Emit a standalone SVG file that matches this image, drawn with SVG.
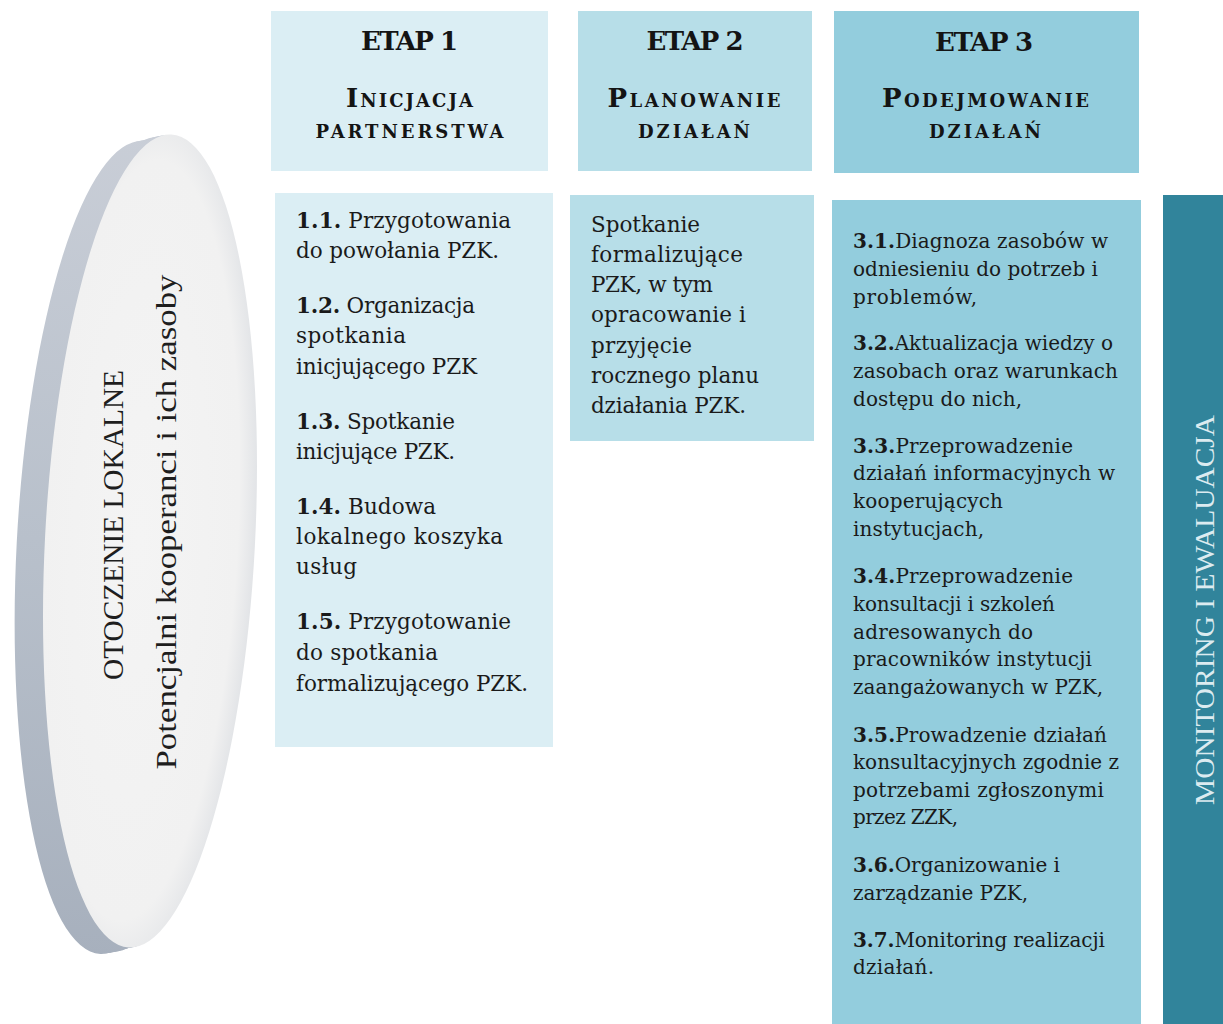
<svg xmlns="http://www.w3.org/2000/svg" width="1223" height="1024" viewBox="0 0 1223 1024">
<defs>
<style>
.hdr{font-family:"DejaVu Serif","Liberation Serif",serif;font-weight:bold;font-size:26px;fill:#141414;text-anchor:middle}
.sc{font-variant:small-caps}
.t1{font-family:"DejaVu Serif","Liberation Serif",serif;font-size:21.5px;fill:#1a1a1a}
.t3{font-family:"DejaVu Serif","Liberation Serif",serif;font-size:20px;fill:#1a1a1a}
.b{font-weight:bold}
.ell{font-family:"Liberation Serif",serif;font-size:29px;fill:#1e1e1e;text-anchor:middle}
.mon{font-family:"Liberation Serif",serif;font-size:28px;fill:#dcebf0;text-anchor:middle}
</style>
<linearGradient id="side" gradientUnits="userSpaceOnUse" x1="0" y1="130" x2="0" y2="960">
<stop offset="0" stop-color="#c9ced7"/>
<stop offset="0.5" stop-color="#b8c0cb"/>
<stop offset="1" stop-color="#a7b0bd"/>
</linearGradient>
<radialGradient id="face" cx="0.45" cy="0.5" r="0.55">
<stop offset="0" stop-color="#f4f4f4"/>
<stop offset="0.85" stop-color="#f1f1f1"/>
<stop offset="1" stop-color="#e2e4e7"/>
</radialGradient>
</defs>
<rect x="0" y="0" width="1223" height="1024" fill="#ffffff"/>

<g id="otoczenie">
<g transform="rotate(3 150 541)" fill="url(#side)">
<ellipse cx="122" cy="549" rx="105" ry="407"/>
<ellipse cx="126" cy="548" rx="105" ry="407"/>
<ellipse cx="130" cy="547" rx="105" ry="407"/>
<ellipse cx="134" cy="546" rx="105" ry="407"/>
<ellipse cx="138" cy="544" rx="105" ry="407"/>
<ellipse cx="142" cy="543" rx="105" ry="407"/>
<ellipse cx="146" cy="542" rx="105" ry="407"/>
<ellipse cx="150" cy="541" rx="105" ry="407" fill="url(#face)"/>
</g>
<text class="ell" transform="translate(123 525) rotate(-90)" x="0" y="0" textLength="310" lengthAdjust="spacingAndGlyphs">OTOCZENIE LOKALNE</text>
<text class="ell" transform="translate(176 522) rotate(-90)" x="0" y="0" textLength="495" lengthAdjust="spacingAndGlyphs">Potencjalni kooperanci i ich zasoby</text>
</g>

<g id="etap1-header">
<rect x="271" y="11" width="277" height="160" fill="#dbeef4"/>
<text class="hdr" x="409.5" y="50" textLength="97">ETAP 1</text>
<text class="hdr sc" x="409.5" y="107" textLength="127">Inicjacja</text>
<text class="hdr sc" x="409.5" y="138" textLength="188">partnerstwa</text>
</g>

<g id="etap2-header">
<rect x="578" y="11" width="234" height="160" fill="#b7dee8"/>
<text class="hdr" x="695" y="50" textLength="97">ETAP 2</text>
<text class="hdr sc" x="694" y="107" textLength="173">Planowanie</text>
<text class="hdr sc" x="694" y="138" textLength="112">działań</text>
</g>

<g id="etap3-header">
<rect x="834" y="11" width="305" height="162" fill="#93cddd"/>
<text class="hdr" x="984" y="51" textLength="98">ETAP 3</text>
<text class="hdr sc" x="985.5" y="107" textLength="207">Podejmowanie</text>
<text class="hdr sc" x="985" y="138" textLength="112">działań</text>
</g>

<g id="etap1-content">
<rect x="275" y="193" width="278" height="554" fill="#dbeef4"/>
<text class="t1" x="296" y="228" textLength="215"><tspan class="b">1.1.</tspan> Przygotowania</text>
<text class="t1" x="296" y="258" textLength="203">do powołania PZK.</text>
<text class="t1" x="296" y="313" textLength="179"><tspan class="b">1.2.</tspan> Organizacja</text>
<text class="t1" x="296" y="343" textLength="110">spotkania</text>
<text class="t1" x="296" y="374" textLength="181">inicjującego PZK</text>
<text class="t1" x="296" y="429" textLength="159"><tspan class="b">1.3.</tspan> Spotkanie</text>
<text class="t1" x="296" y="459" textLength="159">inicjujące PZK.</text>
<text class="t1" x="296" y="514" textLength="140"><tspan class="b">1.4.</tspan> Budowa</text>
<text class="t1" x="296" y="544" textLength="207">lokalnego koszyka</text>
<text class="t1" x="296" y="574" textLength="61">usług</text>
<text class="t1" x="296" y="629" textLength="215"><tspan class="b">1.5.</tspan> Przygotowanie</text>
<text class="t1" x="296" y="660" textLength="142">do spotkania</text>
<text class="t1" x="296" y="691" textLength="232">formalizującego PZK.</text>
</g>

<g id="etap2-content">
<rect x="570" y="195" width="244" height="246" fill="#b7dee8"/>
<text class="t1" x="591" y="232" textLength="109">Spotkanie</text>
<text class="t1" x="591" y="262" textLength="152">formalizujące</text>
<text class="t1" x="591" y="292" textLength="122">PZK, w tym</text>
<text class="t1" x="591" y="322" textLength="155">opracowanie i</text>
<text class="t1" x="591" y="353" textLength="101">przyjęcie</text>
<text class="t1" x="591" y="383" textLength="168">rocznego planu</text>
<text class="t1" x="591" y="413" textLength="155">działania PZK.</text>
</g>

<g id="etap3-content">
<rect x="832" y="200" width="309" height="824" fill="#93cddd"/>
<text class="t3" x="853" y="248" textLength="255"><tspan class="b">3.1.</tspan>Diagnoza zasobów w</text>
<text class="t3" x="853" y="276" textLength="245">odniesieniu do potrzeb i</text>
<text class="t3" x="853" y="304" textLength="124">problemów,</text>
<text class="t3" x="853" y="350" textLength="260"><tspan class="b">3.2.</tspan>Aktualizacja wiedzy o</text>
<text class="t3" x="853" y="378" textLength="265">zasobach oraz warunkach</text>
<text class="t3" x="853" y="406" textLength="169">dostępu do nich,</text>
<text class="t3" x="853" y="453" textLength="220"><tspan class="b">3.3.</tspan>Przeprowadzenie</text>
<text class="t3" x="853" y="480" textLength="262">działań informacyjnych w</text>
<text class="t3" x="853" y="508" textLength="150">kooperujących</text>
<text class="t3" x="853" y="536" textLength="131">instytucjach,</text>
<text class="t3" x="853" y="583" textLength="220"><tspan class="b">3.4.</tspan>Przeprowadzenie</text>
<text class="t3" x="853" y="611" textLength="202">konsultacji i szkoleń</text>
<text class="t3" x="853" y="639" textLength="180">adresowanych do</text>
<text class="t3" x="853" y="666" textLength="239">pracowników instytucji</text>
<text class="t3" x="853" y="694" textLength="250">zaangażowanych w PZK,</text>
<text class="t3" x="853" y="742" textLength="254"><tspan class="b">3.5.</tspan>Prowadzenie działań</text>
<text class="t3" x="853" y="769" textLength="266">konsultacyjnych zgodnie z</text>
<text class="t3" x="853" y="797" textLength="251">potrzebami zgłoszonymi</text>
<text class="t3" x="853" y="824" textLength="105">przez ZZK,</text>
<text class="t3" x="853" y="872" textLength="207"><tspan class="b">3.6.</tspan>Organizowanie i</text>
<text class="t3" x="853" y="900" textLength="175">zarządzanie PZK,</text>
<text class="t3" x="853" y="947" textLength="252"><tspan class="b">3.7.</tspan>Monitoring realizacji</text>
<text class="t3" x="853" y="974" textLength="81">działań.</text>
</g>

<g id="monitoring">
<rect x="1163" y="195" width="60" height="829" fill="#31849b"/>
<text class="mon" transform="translate(1214 610) rotate(-90)" x="0" y="0" textLength="390" lengthAdjust="spacingAndGlyphs">MONITORING I EWALUACJA</text>
</g>

<g id="connectors"></g>
</svg>
